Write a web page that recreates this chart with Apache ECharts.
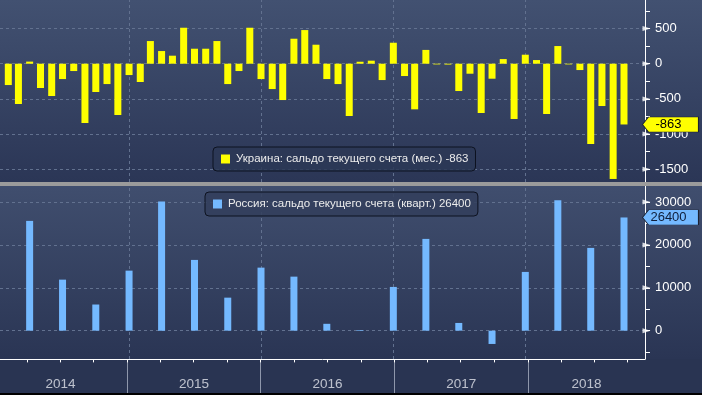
<!DOCTYPE html>
<html><head><meta charset="utf-8">
<script src="https://cdn.jsdelivr.net/npm/echarts@6/dist/echarts.min.js"></script>
<style>html,body{margin:0;padding:0;background:#2d3857;}#c{width:702px;height:395px;}</style>
</head><body><div id="c"></div>
<script>
// ---- data ----
const startYear = 2014;
const ukraineName = 'Украина: сальдо текущего счета (мес.)';
const russiaName = 'Россия: сальдо текущего счета (кварт.)';
// monthly, Jan 2014 .. Sep 2018 (USD mn)
const ukraineMonthly = [
  -303, -572, 30, -345, -459, -218, -104, -842, -402, -289, -728, -161,
  -260, 322, 180, 114, 511, 213, 213, 322, -289, -104, 511, -218,
  -360, -516, 355, 478, 270, -218, -289, -743, 28, 43, -232, 298,
  -175, -648, 196, -10, -12, -388, -142, -700, -213, 66, -785, 128,
  52, -714, 251, -10, -90, -1140, -601, -1637, -863
];
// quarterly, Q1 2014 .. Q3 2018 (USD mn)
const russiaQuarterly = [
  25600, 11900, 6100, 14000,
  30100, 16500, 7700, 14700,
  12600, 1600, 150, 10200,
  21400, 1800, -3100, 13700,
  30400, 19300, 26400
];
const yearLabels = ['2014', '2015', '2016', '2017', '2018'];
const ukraineTickValues = [-1500, -1250, -1000, -750, -500, -250, 0, 250, 500, 750];
const ukraineLabelValues = [-1500, -1000, -500, 0, 500];
const russiaTickValues = [-5000, 0, 5000, 10000, 15000, 20000, 25000, 30000];
const russiaLabelValues = [0, 10000, 20000, 30000];

// ---- derived ----
const xMin = Date.UTC(2014, 0, 17, 17);
const xMax = Date.UTC(2018, 10, 17, 10);
const ukData = ukraineMonthly.map((v, i) => [Date.UTC(startYear, i + 1, 0), v]);
const ruData = russiaQuarterly.map((v, i) => [Date.UTC(startYear, 3 * (i + 1), 0), v]);
const ukLast = ukraineMonthly[ukraineMonthly.length - 1];
const ruLast = russiaQuarterly[russiaQuarterly.length - 1];
const yearStarts = yearLabels.slice(1).map(y => Date.UTC(+y, 0, 1));
const quarterTicks = [];
yearLabels.forEach(y => { [3, 6, 9, 12].forEach(m => { const t = Date.UTC(+y, m, 1); if (t < xMax) quarterTicks.push(t); }); });
const yearCenters = yearLabels.map(y => {
  const s = Math.max(Date.UTC(+y, 0, 1), Date.UTC(startYear, 0, 1));
  const e = Math.min(Date.UTC(+y + 1, 0, 1), xMax);
  return [(s + e) / 2, 0.27, y];
});

const FONT = 'Liberation Sans';
const gridColor = '#62718f';
const yellow = '#ffff00';
const blue = '#74b9ff';

function yAxisCfg(idx, min, max, ticks, labels) {
  return {
    type: 'value', gridIndex: idx, position: 'right', min: min, max: max,
    axisLine: { show: true, lineStyle: { color: '#ffffff', width: 1 } },
    axisTick: { show: true, length: 5, customValues: ticks, lineStyle: { color: '#ffffff' } },
    axisLabel: { show: true, customValues: labels, margin: 10, color: '#ffffff', fontSize: 13, fontFamily: FONT,
      formatter: v => String(v) },
    splitLine: { show: false }
  };
}
function hiddenX(idx, showLine) {
  return {
    type: 'time', gridIndex: idx, min: xMin, max: xMax,
    axisLine: { show: !!showLine, onZero: false, lineStyle: { color: '#ffffff', width: 1 } },
    axisTick: { show: false }, axisLabel: { show: false }, splitLine: { show: false }
  };
}
function gridLines(hValues) {
  return {
    silent: true, symbol: 'none', z: 1, animation: false,
    label: { show: false },
    lineStyle: { color: gridColor, type: [3, 3], width: 1 },
    data: hValues.map(v => ({ yAxis: v })).concat(yearStarts.map(t => ({ xAxis: t })))
  };
}
function flag(coordX, val, fill, textColor) {
  return {
    silent: true, animation: false,
    symbol: 'path://M0,7.5L6,0L56,0L56,15L6,15Z',
    symbolSize: [56, 15], symbolOffset: [29, 0], symbolKeepAspect: false,
    itemStyle: { color: fill, borderColor: '#1b2233', borderWidth: 0.6 },
    label: { show: true, position: 'inside', offset: [-2, 0], formatter: String(val), color: textColor, fontSize: 13, fontFamily: FONT },
    data: [{ coord: [coordX, val], value: val }]
  };
}
// right-pointing triangle markers at the major ticks of a value axis
function majorMarks(idx, values) {
  return {
    name: 'major' + idx, type: 'scatter', xAxisIndex: idx, yAxisIndex: idx, clip: false, silent: true, z: 6,
    symbol: 'path://M0,0L8,3L0,6Z', symbolSize: [8, 5], symbolOffset: [5, 0], symbolKeepAspect: false,
    itemStyle: { color: '#ffffff' }, label: { show: false },
    data: values.map(v => [xMax, v])
  };
}

const chart = echarts.init(document.getElementById('c'), null, { renderer: 'canvas' });
chart.setOption({
  animation: false,
  backgroundColor: '#2d3857',
  graphic: [
    { type: 'rect', silent: true, z: -10, shape: { x: 0, y: 0, width: 702, height: 182 },
      style: { fill: { type: 'linear', x: 0, y: 0, x2: 0, y2: 1, colorStops: [{ offset: 0, color: '#425171' }, { offset: 1, color: '#2b3656' }] } } },
    { type: 'rect', silent: true, z: -10, shape: { x: 0, y: 186, width: 702, height: 173 },
      style: { fill: { type: 'linear', x: 0, y: 0, x2: 0, y2: 1, colorStops: [{ offset: 0, color: '#404e6e' }, { offset: 1, color: '#2a3554' }] } } },
    { type: 'rect', silent: true, z: -10, shape: { x: 0, y: 359, width: 702, height: 34 }, style: { fill: '#293452' } },
    { type: 'rect', silent: true, z: 50, shape: { x: 0, y: 393, width: 702, height: 2 }, style: { fill: '#000000' } },
    { type: 'rect', silent: true, z: 50, shape: { x: 0, y: 182, width: 702, height: 4 }, style: { fill: '#9b9b9b' } }
  ],
  grid: [
    { left: 0, right: 57, top: 0, height: 182 },
    { left: 0, right: 57, top: 186, height: 173 },
    { left: 0, right: 57, top: 359, height: 34 }
  ],
  xAxis: [hiddenX(0, false), hiddenX(1, true), hiddenX(2, false)],
  yAxis: [
    yAxisCfg(0, -1680, 905, ukraineTickValues, ukraineLabelValues),
    yAxisCfg(1, -6607, 33737, russiaTickValues, russiaLabelValues),
    { type: 'value', gridIndex: 2, min: 0, max: 1, show: false }
  ],
  legend: [
    { data: [ukraineName], left: 213, top: 147, orient: 'horizontal', selectedMode: false,
      icon: 'rect', itemWidth: 9, itemHeight: 9, itemGap: 0,
      padding: [6, 7, 6, 8], backgroundColor: 'rgba(44,56,86,0.85)', borderColor: '#0d1220', borderWidth: 1, borderRadius: 4,
      formatter: n => n + ' ' + ukLast,
      textStyle: { color: '#ececec', fontSize: 11.5, fontFamily: FONT, padding: [0, 0, 0, 1] } },
    { data: [russiaName], left: 205, top: 192, orient: 'horizontal', selectedMode: false,
      icon: 'rect', itemWidth: 9, itemHeight: 9, itemGap: 0,
      padding: [6, 7, 6, 8], backgroundColor: 'rgba(50,62,92,0.85)', borderColor: '#0d1220', borderWidth: 1, borderRadius: 4,
      formatter: n => n + ' ' + ruLast,
      textStyle: { color: '#ececec', fontSize: 11.5, fontFamily: FONT, padding: [0, 0, 0, 1] } }
  ],
  series: [
    { name: ukraineName, type: 'bar', xAxisIndex: 0, yAxisIndex: 0, barWidth: 7,
      itemStyle: { color: yellow }, data: ukData,
      markLine: gridLines(ukraineLabelValues),
      markPoint: flag(xMax, ukLast, yellow, '#000000') },
    { name: russiaName, type: 'bar', xAxisIndex: 1, yAxisIndex: 1, barWidth: 7,
      itemStyle: { color: blue }, data: ruData,
      markLine: gridLines(russiaLabelValues),
      markPoint: flag(xMax, ruLast, blue, '#0f1e3a') },
    majorMarks(0, ukraineLabelValues),
    majorMarks(1, russiaLabelValues),
    { name: 'years', type: 'scatter', xAxisIndex: 2, yAxisIndex: 2, symbolSize: 0, silent: true,
      data: yearCenters,
      label: { show: true, position: 'inside', formatter: p => p.data[2], color: '#e2e5ec', fontSize: 13.5, fontFamily: FONT },
      markLine: {
        silent: true, symbol: 'none', animation: false, label: { show: false },
        data: yearStarts.map(t => ({ xAxis: t, lineStyle: { color: '#8e97ab', type: 'solid', width: 1 } }))
          .concat(quarterTicks.map(t => [{ coord: [t, 1], lineStyle: { color: '#ffffff', type: 'solid', width: 1 } }, { coord: [t, 0.9] }]))
      } }
  ]
});
</script>
</body></html>
